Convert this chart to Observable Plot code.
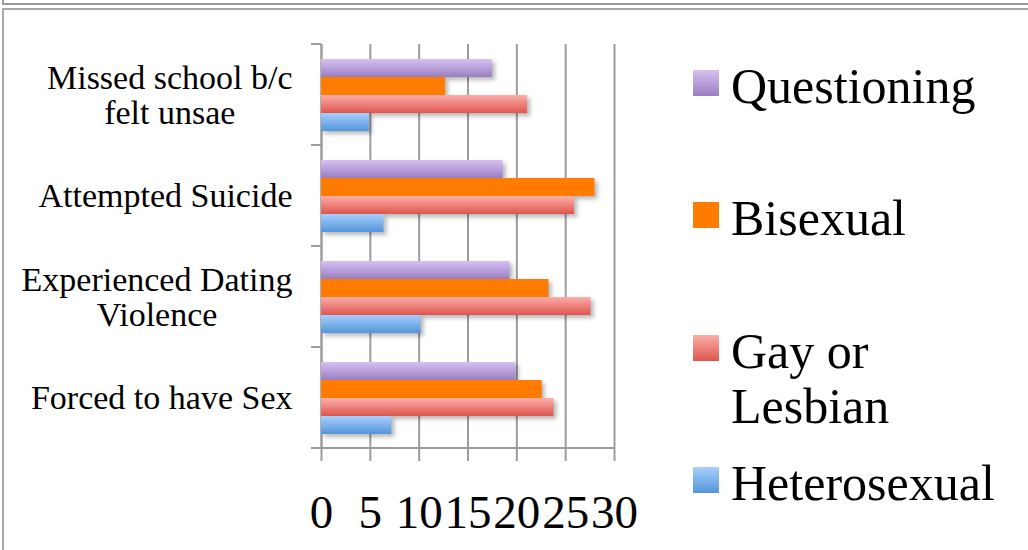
<!DOCTYPE html>
<html><head><meta charset="utf-8">
<script src="https://cdn.jsdelivr.net/npm/d3@7"></script>
<script src="https://cdn.jsdelivr.net/npm/@observablehq/plot@0.6"></script>
<style>
html,body{margin:0;padding:0;background:#fff;}
body{width:1028px;height:550px;overflow:hidden;font-family:"Liberation Serif",serif;}
#wrap{position:relative;width:1028px;height:550px;overflow:hidden;}
.b1{position:absolute;left:2px;top:-2px;width:1040px;height:5px;border-left:2px solid #9a9a9a;border-bottom:2px solid #9a9a9a;}
.b2{position:absolute;left:2px;top:8px;width:1040px;height:560px;border-left:2px solid #a8a8a8;border-top:2px solid #a8a8a8;}
#chart{position:absolute;left:0;top:0;}
#chart svg{overflow:visible;}
#chart g[aria-label="bar"] rect{filter:drop-shadow(3px 3px 2px rgba(0,0,0,0.28));}
.legend .item{position:absolute;left:693px;font-size:50px;line-height:55px;width:320px;color:#000;}
.legend .sw{position:absolute;left:0;width:26px;height:26px;top:14px;}
.legend .lab{position:absolute;left:38px;top:3px;width:285px;white-space:normal;}
</style>
</head><body>
<div id="wrap">
  <div class="b1"></div>
  <div class="b2"></div>
  <div id="chart"></div>
  <div class="legend" id="legend"></div>
</div>
<script>
const categories = ["Missed school b/c\nfelt unsae", "Attempted Suicide", "Experienced Dating\nViolence", "Forced to have Sex"];
const series = ["Questioning", "Bisexual", "Gay or Lesbian", "Heterosexual"];
const questioning  = [17.5, 18.6, 19.3, 19.9];
const bisexual     = [12.7, 28.0, 23.3, 22.6];
const gayLesbian   = [21.1, 25.9, 27.6, 23.8];
const heterosexual = [4.9, 6.4, 10.2, 7.2];
const xTicks = [0, 5, 10, 15, 20, 25, 30];

const seriesValues = [questioning, bisexual, gayLesbian, heterosexual];
const rows = categories.flatMap((c, i) => series.map((s, j) => ({category: c, series: s, value: seriesValues[j][i]})));

const grads = [
  {id: "g-q", top: "#d6c0f2", bottom: "#9a7ec1"},
  {id: "g-b", top: "#ff7c00", bottom: "#ff7c00"},
  {id: "g-g", top: "#fdaea9", bottom: "#dd564e"},
  {id: "g-h", top: "#a7cffd", bottom: "#5495d9"}
];

function defsMark() {
  const defs = d3.create("svg:defs");
  for (const g of grads) {
    const lg = defs.append("linearGradient").attr("id", g.id).attr("x1", 0).attr("y1", 0).attr("x2", 0).attr("y2", 1);
    lg.append("stop").attr("offset", "0%").attr("stop-color", g.top);
    lg.append("stop").attr("offset", "100%").attr("stop-color", g.bottom);
  }
  return defs.node();
}

const plot = Plot.plot({
  width: 1028,
  height: 550,
  marginLeft: 321,
  marginRight: 414,
  marginTop: 43,
  marginBottom: 101,
  style: {fontFamily: "Liberation Serif, serif", background: "transparent", color: "#000"},
  x: {domain: [0, 30], label: null},
  y: {domain: series, paddingInner: 0, paddingOuter: 0.755, axis: null, label: null},
  fy: {domain: categories, padding: 0, label: null},
  color: {domain: series, range: grads.map(g => `url(#${g.id})`)},
  marks: [
    defsMark,
    Plot.gridX(xTicks, {stroke: "#9c9c9c", strokeOpacity: 1, strokeWidth: 2}),
    Plot.ruleX([0], {stroke: "#9c9c9c", strokeWidth: 2}),
    Plot.barX(rows, {x: "value", y: "series", fy: "category", fill: "series"}),
    Plot.axisX({ticks: xTicks, tickSize: 13, tickPadding: 33, fontSize: 47, stroke: "#9c9c9c", strokeWidth: 2, strokeOpacity: 1, fill: "#000", label: null}),
    Plot.axisFy({anchor: "left", tickSize: 0, tickPadding: 29, fontSize: 34, lineHeight: 1.03, fill: "#000", label: null})
  ]
});

document.getElementById("chart").appendChild(plot);

// axis decorations from the library's scales
const xs = plot.scale("x");
const fys = plot.scale("fy");
const svg = d3.select(plot);
const x0 = xs.apply(0), x1 = xs.apply(30);
const bounds = categories.map(c => fys.apply(c));
bounds.push(fys.apply(categories[categories.length - 1]) + fys.bandwidth);
const deco = svg.append("g").attr("stroke", "#9c9c9c").attr("stroke-width", 2);
for (const y of bounds) {
  deco.append("line").attr("x1", x0 - 10).attr("x2", x0).attr("y1", y).attr("y2", y);
}
deco.append("line").attr("x1", x0 - 10).attr("x2", x1 + 1).attr("y1", bounds[bounds.length - 1]).attr("y2", bounds[bounds.length - 1]);

// center multi-line category labels within their right-aligned block
svg.selectAll('g[aria-label="fy-axis tick label"] text').each(function() {
  const tspans = d3.select(this).selectAll("tspan").nodes();
  if (tspans.length < 2) return;
  const widths = tspans.map(t => t.getComputedTextLength());
  const W = Math.max(...widths);
  tspans.forEach((t, i) => t.setAttribute("x", -(W - widths[i]) / 2));
});

// legend
const legendTops = [56, 188, 321, 453];
const swatchCss = grads.map(g => `linear-gradient(${g.top}, ${g.bottom})`);
const legend = d3.select("#legend");
series.forEach((s, i) => {
  const item = legend.append("div").attr("class", "item").style("top", legendTops[i] + "px");
  item.append("div").attr("class", "sw").style("background", swatchCss[i]);
  item.append("div").attr("class", "lab").text(s);
});
</script>
</body></html>
